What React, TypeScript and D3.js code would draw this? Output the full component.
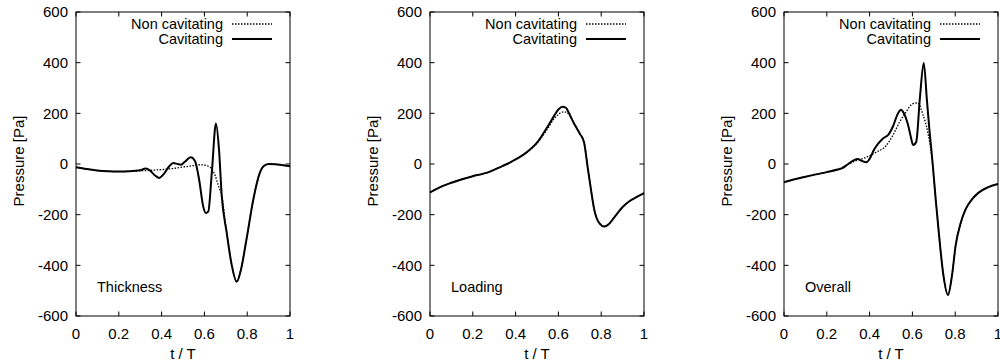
import React from "react";
import * as d3 from "d3";

type Pt = [number, number];

const xTicks = [0, 0.2, 0.4, 0.6, 0.8, 1];
const yTicks = [-600, -400, -200, 0, 200, 400, 600];
const xTickLabels = ["0", "0.2", "0.4", "0.6", "0.8", "1"];
const yTickLabels = ["-600", "-400", "-200", "0", "200", "400", "600"];
const seriesNames = ["Non cavitating", "Cavitating"];
const panelTitles = ["Thickness", "Loading", "Overall"];

const thicknessCav: Pt[] = [
  [0, -13], [0.05, -20], [0.1, -26], [0.15, -29], [0.2, -30], [0.25, -29], [0.3, -25],
  [0.325, -18], [0.345, -25], [0.365, -42], [0.388, -55], [0.41, -40], [0.435, -10],
  [0.455, 4], [0.475, 0], [0.49, -3], [0.51, 10], [0.536, 27], [0.556, 12], [0.575, -60],
  [0.595, -170], [0.606, -193], [0.618, -188], [0.635, -30], [0.654, 160], [0.668, 60],
  [0.681, -125], [0.704, -270], [0.728, -400], [0.751, -465], [0.77, -420], [0.797, -296],
  [0.829, -138], [0.857, -40], [0.875, -10], [0.9, 0], [0.93, -1], [0.96, -4], [1, -9],
];
const thicknessNon: Pt[] = [
  [0, -13], [0.05, -20], [0.1, -26], [0.15, -29], [0.2, -30], [0.25, -29], [0.3, -27],
  [0.35, -25], [0.4, -22], [0.45, -18], [0.5, -12], [0.55, -6], [0.58, -3], [0.6, -4],
  [0.62, -10], [0.635, -20], [0.65, -45], [0.665, -85], [0.681, -125], [0.704, -270],
  [0.728, -400], [0.751, -465], [0.77, -420], [0.797, -296], [0.829, -138], [0.857, -40],
  [0.875, -10], [0.9, 0], [0.93, -1], [0.96, -4], [1, -9],
];

const loadingCav: Pt[] = [
  [0, -112], [0.05, -90], [0.1, -74], [0.15, -60], [0.2, -48], [0.25, -38], [0.28, -30],
  [0.32, -15], [0.36, 0], [0.4, 18], [0.45, 45], [0.5, 84], [0.55, 148], [0.58, 190],
  [0.6, 215], [0.62, 226], [0.635, 222], [0.65, 200], [0.67, 165], [0.7, 120], [0.72, 85],
  [0.736, -8], [0.752, -100], [0.767, -178], [0.79, -232], [0.815, -247], [0.835, -238],
  [0.86, -212], [0.9, -170], [0.93, -148], [0.96, -133], [1, -115],
];
const loadingNon: Pt[] = [
  [0, -112], [0.05, -90], [0.1, -74], [0.15, -60], [0.2, -48], [0.25, -38], [0.28, -30],
  [0.32, -15], [0.36, 0], [0.4, 18], [0.45, 45], [0.5, 82], [0.55, 140], [0.58, 178],
  [0.6, 196], [0.62, 205], [0.635, 205], [0.65, 195], [0.67, 165], [0.7, 120], [0.72, 85],
  [0.736, -8], [0.752, -100], [0.767, -178], [0.79, -232], [0.815, -247], [0.835, -238],
  [0.86, -212], [0.9, -170], [0.93, -148], [0.96, -133], [1, -115],
];

const overallCav: Pt[] = [
  [0, -72], [0.05, -60], [0.1, -50], [0.15, -41], [0.2, -32], [0.25, -22], [0.275, -15],
  [0.3, 0], [0.343, 20], [0.365, 12], [0.385, 7], [0.4, 20], [0.42, 55], [0.44, 80],
  [0.46, 99], [0.49, 118], [0.51, 150], [0.53, 195], [0.547, 214], [0.56, 200],
  [0.578, 160], [0.592, 110], [0.603, 75], [0.618, 88], [0.635, 260], [0.653, 399],
  [0.668, 250], [0.68, 130], [0.694, 8], [0.71, -150], [0.725, -285], [0.745, -440],
  [0.766, -517], [0.785, -440], [0.802, -322], [0.825, -235], [0.849, -178], [0.88, -138],
  [0.911, -112], [0.95, -93], [1, -79],
];
const overallNon: Pt[] = [
  [0, -72], [0.05, -60], [0.1, -50], [0.15, -41], [0.2, -32], [0.25, -22], [0.29, -6],
  [0.336, 13], [0.383, 26], [0.43, 46], [0.477, 72], [0.51, 115], [0.54, 165], [0.57, 205],
  [0.6, 237], [0.625, 241], [0.648, 198], [0.672, 125], [0.69, 33], [0.71, -150],
  [0.725, -285], [0.745, -440], [0.766, -517], [0.785, -440], [0.802, -322], [0.825, -235],
  [0.849, -178], [0.88, -138], [0.911, -112], [0.95, -93], [1, -79],
];

const panelData: { cav: Pt[]; non: Pt[] }[] = [
  { cav: thicknessCav, non: thicknessNon },
  { cav: loadingCav, non: loadingNon },
  { cav: overallCav, non: overallNon },
];

const FONT = "'Liberation Sans', Arial, Helvetica, sans-serif";
const FS_TICK = 15;
const FS = 14.5;
const panelLefts = [76, 430, 784];
const PW = 214;
const TOP = 12;
const BOTTOM = 316;
const TICK = 4.5;

function Panel({ idx }: { idx: number }) {
  const left = panelLefts[idx];
  const right = left + PW;
  const x = d3.scaleLinear().domain([0, 1]).range([left, right]);
  const y = d3.scaleLinear().domain([-600, 600]).range([BOTTOM, TOP]);
  const line = d3
    .line<Pt>()
    .x((d) => x(d[0]))
    .y((d) => y(d[1]))
    .curve(d3.curveMonotoneX);
  const { cav, non } = panelData[idx];
  const legX2 = right - 18;
  const legX1 = legX2 - 40;
  const legTextX = right - 67;
  return (
    <g>
      {xTicks.map((t, i) => (
        <g key={"x" + i}>
          <line x1={x(t)} x2={x(t)} y1={BOTTOM} y2={BOTTOM - TICK} stroke="#000" strokeWidth={1} />
          <line x1={x(t)} x2={x(t)} y1={TOP} y2={TOP + TICK} stroke="#000" strokeWidth={1} />
          <text x={x(t)} y={339} textAnchor="middle" fontSize={FS_TICK} fontFamily={FONT} fill="#000">
            {xTickLabels[i]}
          </text>
        </g>
      ))}
      {yTicks.map((v, i) => (
        <g key={"y" + i}>
          <line x1={left} x2={left + TICK} y1={y(v)} y2={y(v)} stroke="#000" strokeWidth={1} />
          <line x1={right} x2={right - TICK} y1={y(v)} y2={y(v)} stroke="#000" strokeWidth={1} />
          <text x={left - 8} y={y(v)} dy="0.36em" textAnchor="end" fontSize={FS_TICK} fontFamily={FONT} fill="#000">
            {yTickLabels[i]}
          </text>
        </g>
      ))}
      <path d={line(non) || ""} fill="none" stroke="#000" strokeWidth={1.3} strokeDasharray="1.5,1.5" />
      <path d={line(cav) || ""} fill="none" stroke="#000" strokeWidth={2} strokeLinejoin="round" />
      <rect x={left} y={TOP} width={PW} height={BOTTOM - TOP} fill="none" stroke="#000" strokeWidth={1} />
      <text x={legTextX} y={29} textAnchor="end" fontSize={FS} fontFamily={FONT} fill="#000">
        {seriesNames[0]}
      </text>
      <line x1={legX1} x2={legX2} y1={24} y2={24} stroke="#000" strokeWidth={1.3} strokeDasharray="1.5,1.5" />
      <text x={legTextX} y={44} textAnchor="end" fontSize={FS} fontFamily={FONT} fill="#000">
        {seriesNames[1]}
      </text>
      <line x1={legX1} x2={legX2} y1={39} y2={39} stroke="#000" strokeWidth={2} />
      <text x={left + 21} y={292} fontSize={FS} fontFamily={FONT} fill="#000">
        {panelTitles[idx]}
      </text>
      <text x={(left + right) / 2} y={359} textAnchor="middle" fontSize={FS_TICK} fontFamily={FONT} fill="#000">
        t / T
      </text>
      <text
        transform={`translate(${left - 52},${(TOP + BOTTOM) / 2 - 3}) rotate(-90)`}
        textAnchor="middle"
        fontSize={FS_TICK}
        fontFamily={FONT}
        fill="#000"
      >
        Pressure [Pa]
      </text>
    </g>
  );
}

export default function App() {
  return (
    <svg
      width={1000}
      height={364}
      style={{ position: "absolute", left: 0, top: 0, background: "#fff", display: "block" }}
    >
      <rect x={0} y={0} width={1000} height={364} fill="#fff" />
      {[0, 1, 2].map((i) => (
        <Panel key={i} idx={i} />
      ))}
    </svg>
  );
}
